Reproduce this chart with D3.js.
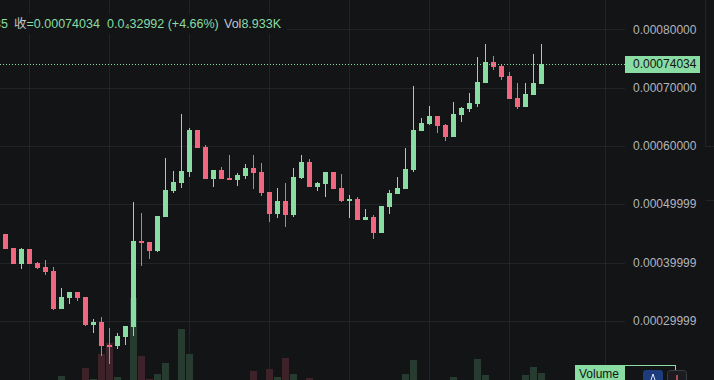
<!DOCTYPE html>
<html lang="zh">
<head>
<meta charset="UTF-8">
<title>Candles</title>
<style>
  html, body { margin: 0; padding: 0; background: #131416; overflow: hidden; }
  svg { display: block; font-family: "Liberation Sans", Arial, "Noto Sans CJK SC", sans-serif; }
</style>
</head>
<body>
<svg width="714" height="380"></svg>
<script src="https://cdn.jsdelivr.net/npm/d3@7/dist/d3.min.js"></script>
<script>

// Data

const open = [0.0004489, 0.0004249, 0.0003975, 0.0004232, 0.0003992, 0.0003923, 0.0003855, 0.0003202, 0.0003391, 0.0003494,
  0.0003409, 0.0002928, 0.0002979, 0.0002585, 0.0002568, 0.0002722, 0.0002894, 0.0004369, 0.0004352, 0.0004198,
  0.0004781, 0.0005226, 0.0005364, 0.0005552, 0.0006273, 0.0005981, 0.0005432, 0.0005587, 0.0005449, 0.0005415,
  0.0005484, 0.0005621, 0.0005552, 0.0005209, 0.0004832, 0.0005055, 0.0004815, 0.0005449, 0.0005724, 0.0005295,
  0.0005346, 0.0005552, 0.0005278, 0.0005055, 0.0005089, 0.0004729, 0.0004781, 0.0004506, 0.0004952, 0.0005175,
  0.0005261, 0.0005587, 0.0006256, 0.0006376, 0.0006513, 0.0006359, 0.0006153, 0.0006530, 0.0006633, 0.0006719,
  0.0007079, 0.0007439, 0.0007370, 0.0007199, 0.0006822, 0.0006667, 0.0006873, 0.0007062];
const high = [0.0004489, 0.0004249, 0.0004249, 0.0004232, 0.0004009, 0.0004043, 0.0003923, 0.0003563, 0.0003494, 0.0003494,
  0.0003409, 0.0003031, 0.0003065, 0.0002876, 0.0002791, 0.0002911, 0.0005038, 0.0004849, 0.0004352, 0.0004798,
  0.0005792, 0.0005569, 0.0006547, 0.0006307, 0.0006273, 0.0006015, 0.0005587, 0.0005638, 0.0005844, 0.0005535,
  0.0005689, 0.0005844, 0.0005707, 0.0005209, 0.0005278, 0.0005364, 0.0005621, 0.0005844, 0.0005775, 0.0005381,
  0.0005552, 0.0005552, 0.0005518, 0.0005158, 0.0005123, 0.0004918, 0.0004815, 0.0004969, 0.0005243, 0.0005466,
  0.0005964, 0.0007027, 0.0006479, 0.0006684, 0.0006513, 0.0006376, 0.0006753, 0.0006667, 0.0006907, 0.0007525,
  0.0007748, 0.0007542, 0.0007405, 0.0007268, 0.0007079, 0.0007079, 0.0007576, 0.0007748];
const low = [0.0004232, 0.0003975, 0.0003889, 0.0003975, 0.0003889, 0.0003786, 0.0003185, 0.0003202, 0.0003288, 0.0003340,
  0.0002911, 0.0002791, 0.0002396, 0.0002259, 0.0002516, 0.0002585, 0.0002739, 0.0003940, 0.0004060, 0.0004180,
  0.0004781, 0.0005192, 0.0005278, 0.0005466, 0.0005964, 0.0005432, 0.0005295, 0.0005432, 0.0005415, 0.0005312,
  0.0005432, 0.0005261, 0.0005141, 0.0004695, 0.0004763, 0.0004609, 0.0004781, 0.0005432, 0.0005295, 0.0005226,
  0.0005123, 0.0005261, 0.0005038, 0.0004763, 0.0004729, 0.0004729, 0.0004403, 0.0004506, 0.0004832, 0.0005175,
  0.0005261, 0.0005552, 0.0006256, 0.0006359, 0.0006221, 0.0006084, 0.0006153, 0.0006410, 0.0006581, 0.0006667,
  0.0007079, 0.0007302, 0.0007130, 0.0006804, 0.0006633, 0.0006667, 0.0006873, 0.0007062];
const close = [0.0004232, 0.0003975, 0.0004232, 0.0003975, 0.0003906, 0.0003837, 0.0003202, 0.0003409, 0.0003494, 0.0003391,
  0.0002928, 0.0002979, 0.0002568, 0.0002568, 0.0002739, 0.0002911, 0.0004369, 0.0004335, 0.0004198, 0.0004798,
  0.0005243, 0.0005381, 0.0005569, 0.0006273, 0.0005964, 0.0005432, 0.0005587, 0.0005432, 0.0005415, 0.0005501,
  0.0005621, 0.0005535, 0.0005192, 0.0004832, 0.0005055, 0.0004815, 0.0005466, 0.0005724, 0.0005295, 0.0005364,
  0.0005552, 0.0005261, 0.0005055, 0.0005089, 0.0004729, 0.0004781, 0.0004506, 0.0004969, 0.0005192, 0.0005278,
  0.0005604, 0.0006273, 0.0006393, 0.0006513, 0.0006342, 0.0006153, 0.0006547, 0.0006650, 0.0006736, 0.0007096,
  0.0007439, 0.0007353, 0.0007182, 0.0006804, 0.0006667, 0.0006890, 0.0007079, 0.00074034];
const volume = [0, 0, 0, 0, 0, 0, 0, 5.1, 0, 0,
  15.4, 1.3, 33.3, 47.4, 3.8, 0, 105, 30.8, 1.3, 7.7,
  21.8, 0, 65.4, 33.3, 0, 0, 0, 0, 0, 0,
  0, 11.5, 0, 14.1, 3.8, 28.2, 7.7, 0, 2.6, 0,
  0, 0, 0, 0, 0, 0, 0, 0, 0, 0,
  7.7, 25.6, 0, 0, 0, 0, 3.8, 0, 0, 26.9,
  6.4, 0, 0, 0, 0, 6.4, 16.7, 8.933]; // thousands

const priceTicks = [0.0008, 0.0007, 0.0006, 0.0005, 0.0004, 0.0003];
const priceTickLabels = ["0.00080000", "0.00070000", "0.00060000", "0.00049999", "0.00039999", "0.00029999"];
const timeGridIndex = [3, 13, 23, 33, 43, 53, 63, 75];

const lastPrice = 0.00074034;
const lastPriceLabel = "0.00074034";

// Layout

const width = 714;
const height = 380;
const plotRight = 625;

// Colors

const BG = "#131416";
const GRID = "#212326";
const UP = "#89dca2";
const DOWN = "#f0677f";
const UP_VOL = "#283b31";
const DOWN_VOL = "#3d2229";
const AXIS_TEXT = "#b2b5be";

// Scales

const x = d3.scaleLinear().domain([0, 75]).range([5.5, 605.5]);
const y = d3.scaleLinear().domain([0.0003, 0.0008]).range([320.8, 29.3]);
const yVol = d3.scaleLinear().domain([0, 120]).range([380, 286.4]);

const candles = open.map((o, i) => ({ i, o, h: high[i], l: low[i], c: close[i], v: volume[i], up: close[i] >= o }));

const svg = d3.select("svg").attr("viewBox", [0, 0, width, height]);

svg.append("rect").attr("width", width).attr("height", height).attr("fill", BG);

// Grid

svg.append("g")
  .selectAll("line")
  .data(priceTicks)
  .join("line")
    .attr("x1", 0)
    .attr("x2", plotRight)
    .attr("y1", d => Math.round(y(d)) + 0.5)
    .attr("y2", d => Math.round(y(d)) + 0.5)
    .attr("stroke", GRID);

svg.append("g")
  .selectAll("line")
  .data(timeGridIndex)
  .join("line")
    .attr("x1", d => Math.floor(x(d)) + 0.5)
    .attr("x2", d => Math.floor(x(d)) + 0.5)
    .attr("y1", 0)
    .attr("y2", height)
    .attr("stroke", GRID);

// right edge lines
svg.append("path")
  .attr("d", "M705.5,0V146.5H714M705.5,200.5H714")
  .attr("fill", "none")
  .attr("stroke", GRID);

// Volume

svg.append("g")
  .selectAll("rect")
  .data(candles.filter(d => d.v > 0))
  .join("rect")
    .attr("x", d => Math.round(x(d.i) - 3.5))
    .attr("width", 7)
    .attr("y", d => Math.round(yVol(d.v)))
    .attr("height", d => height - Math.round(yVol(d.v)))
    .attr("fill", d => d.up ? UP_VOL : DOWN_VOL);

// Candles

const g = svg.append("g");

g.selectAll(".wick")
  .data(candles)
  .join("rect")
    .attr("class", "wick")
    .attr("x", d => Math.round(x(d.i) - 0.5))
    .attr("width", 1)
    .attr("y", d => Math.round(y(d.h)))
    .attr("height", d => Math.max(1, Math.round(y(d.l)) - Math.round(y(d.h))))
    .attr("fill", d => d.up ? UP : DOWN);

g.selectAll(".body")
  .data(candles)
  .join("rect")
    .attr("class", "body")
    .attr("x", d => Math.round(x(d.i) - 2.5))
    .attr("width", 5)
    .attr("y", d => Math.round(y(Math.max(d.o, d.c))))
    .attr("height", d => Math.max(2, Math.round(y(Math.min(d.o, d.c))) - Math.round(y(Math.max(d.o, d.c)))))
    .attr("fill", d => d.up ? UP : DOWN);

// Last price line

svg.append("line")
  .attr("x1", 0)
  .attr("x2", plotRight)
  .attr("y1", Math.round(y(lastPrice)) + 0.5)
  .attr("y2", Math.round(y(lastPrice)) + 0.5)
  .attr("stroke", UP)
  .attr("stroke-dasharray", "1,2");

// Price axis

svg.append("g")
  .selectAll("text")
  .data(priceTicks)
  .join("text")
    .attr("x", 633)
    .attr("y", d => y(d))
    .attr("dy", "0.35em")
    .attr("fill", AXIS_TEXT)
    .attr("font-size", 12)
    .text((d, i) => priceTickLabels[i]);

svg.append("rect")
  .attr("x", plotRight)
  .attr("y", Math.round(y(lastPrice)) - 8)
  .attr("width", 75)
  .attr("height", 17)
  .attr("fill", UP);

svg.append("text")
  .attr("x", 633)
  .attr("y", y(lastPrice))
  .attr("dy", "0.35em")
  .attr("fill", BG)
  .attr("font-size", 12)
  .text(lastPriceLabel);

// Legend header

svg.append("rect")
  .attr("x", 0).attr("y", 14).attr("width", 287).attr("height", 20)
  .attr("fill", BG);

const header = svg.append("text")
  .attr("y", 28)
  .attr("font-size", 12.5);

header.append("tspan").attr("x", -6).attr("fill", UP).text("35");
header.append("tspan").attr("x", 14).attr("fill", "#c3c6ce").text("收");
header.append("tspan").attr("fill", UP).text("=0.00074034");
header.append("tspan").attr("x", 107).attr("fill", UP).text("0.0₄32992 (+4.66%)");
header.append("tspan").attr("x", 224).attr("fill", "#c3c6ce").text("Vol");
header.append("tspan").attr("fill", UP).text("8.933K");

// Volume pane label

svg.append("rect")
  .attr("x", 575).attr("y", 365).attr("width", 49).attr("height", 20)
  .attr("fill", UP);

svg.append("text")
  .attr("x", 579).attr("y", 378)
  .attr("font-size", 12)
  .attr("fill", BG)
  .text("Volume");

svg.append("rect")
  .attr("x", 624.5).attr("y", 365.5).attr("width", 51).attr("height", 20)
  .attr("fill", BG)
  .attr("stroke", UP);

svg.append("rect")
  .attr("x", 643).attr("y", 370).attr("width", 20).attr("height", 16).attr("rx", 3)
  .attr("fill", "#1d3c7e");
svg.append("path")
  .attr("d", "M653,374L651,380M653,374L655,380")
  .attr("stroke", "#dfe6ff").attr("stroke-width", 1);

svg.append("rect")
  .attr("x", 667.5).attr("y", 370.5).attr("width", 19).attr("height", 15).attr("rx", 3)
  .attr("fill", "#1a1c20").attr("stroke", "#3a3d45");
svg.append("path")
  .attr("d", "M677,375V380")
  .attr("stroke", "#e05a6a").attr("stroke-width", 1.5);

</script>
</body>
</html>
